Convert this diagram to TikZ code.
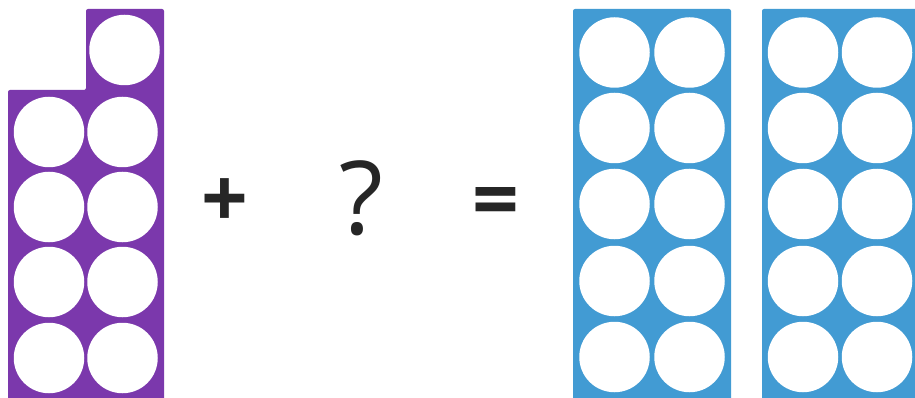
\documentclass[tikz,border=0pt]{standalone}
\usepackage{fontspec}
\setmainfont{Open Sans}
\definecolor{tenpurple}{HTML}{7B38AC}
\definecolor{tenblue}{HTML}{429BD3}
\definecolor{signgrey}{HTML}{262626}
\begin{document}
\begin{tikzpicture}[x=1pt,y=-1pt,
  dot/.style={circle,fill=white,minimum size=70.5pt,inner sep=0pt},
  sign/.style={text=signgrey,inner sep=0pt}]
\useasboundingbox (0,0) rectangle (915,398);
\begin{scope}
\clip (0,0) rectangle (915,398);
% purple frame of nine
\fill[tenpurple,rounded corners=2pt] (8,402) -- (8,90) -- (86,90) -- (86,9) -- (164,9) -- (164,402) -- cycle;
\node[dot] (p0) at (124.5,50) {};
\foreach \r/\y in {1/132,2/207,3/282,4/358}{
  \node[dot] (pl\r) at (49,\y) {};
  \node[dot] (pr\r) at (122.5,\y) {};
}
% blue frames of ten
\fill[tenblue,rounded corners=2pt] (573,9) rectangle (731,402);
\fill[tenblue,rounded corners=2pt] (762,9) rectangle (920,402);
\foreach \r/\y in {1/52.5,2/128,3/204,4/281,5/357}{
  \node[dot] (al\r) at (614.5,\y) {};
  \node[dot] (ar\r) at (689.5,\y) {};
  \node[dot] (bl\r) at (803,\y) {};
  \node[dot] (br\r) at (877,\y) {};
}
\end{scope}
\node[sign,font=\fontsize{82}{82}\selectfont\bfseries] (plus) at (225,203) {+};
\node[sign,font=\fontsize{102}{102}\selectfont] (quest) at (361.5,198) {?};
\node[sign,font=\fontsize{82}{82}\selectfont\bfseries] (equals) at (496,208) {=};
\end{tikzpicture}
\end{document}
